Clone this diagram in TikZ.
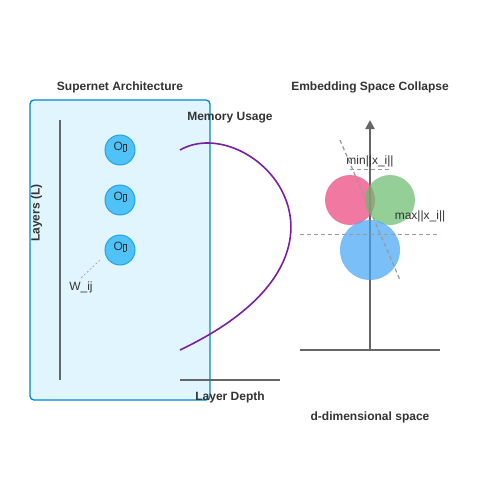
\documentclass[tikz,border=0pt]{standalone}
\usepackage{fontspec}
\setmainfont{Liberation Sans}
\usetikzlibrary{arrows.meta}
\definecolor{txt}{HTML}{333333}
\definecolor{axisgray}{HTML}{666666}
\definecolor{dashgray}{HTML}{999999}
\definecolor{boxfill}{HTML}{E1F5FE}
\definecolor{boxdraw}{HTML}{0288D1}
\definecolor{opfill}{HTML}{4FC3F7}
\definecolor{opdraw}{HTML}{29A0E0}
\definecolor{curvecol}{HTML}{7B1FA2}
\definecolor{pinkc}{HTML}{EC407A}
\definecolor{greenc}{HTML}{66BB6A}
\definecolor{bluec}{HTML}{42A5F5}
\newcommand{\tofubox}{{\setlength{\fboxsep}{0pt}\setlength{\fboxrule}{0.4pt}\fbox{\rule{0pt}{7pt}\hspace{2.5pt}}}}
\tikzset{
  titletxt/.style={font=\bfseries\fontsize{12}{14}\selectfont, text=txt, inner sep=0pt},
  labeltxt/.style={font=\fontsize{12}{14}\selectfont, text=txt, inner sep=0pt},
  axisline/.style={draw=axisgray, line width=2pt},
  dashline/.style={draw=dashgray, dashed, line width=1.2pt, dash pattern=on 4pt off 3pt},
  opnode/.style={circle, minimum size=30pt, inner sep=0pt, fill=opfill, draw=opdraw, line width=1pt},
}
\begin{document}
\begin{tikzpicture}[x=1pt,y=-1pt]
\useasboundingbox (0,0) rectangle (500,500);
\fill[white] (0,0) rectangle (500,500);
% left panel
\node[titletxt] (t1) at (120,87.5) {Supernet Architecture};
\draw[fill=boxfill, draw=boxdraw, line width=1.3pt, rounded corners=4pt] (30,100) rectangle (210,400);
\coordinate (la) at (60,120);
\coordinate (lb) at (60,380);
\draw[axisline] (la) -- (lb);
\node[titletxt, rotate=90] (ly) at (36.5,213) {Layers (L)};
\node[opnode] (o1) at (120,150) {};
\node[opnode] (o2) at (120,200) {};
\node[opnode] (o3) at (120,250) {};
\node[labeltxt] (o1t) at (120,147) {O\tofubox};
\node[labeltxt] (o2t) at (120,197) {O\tofubox};
\node[labeltxt] (o3t) at (120,247) {O\tofubox};
\node[labeltxt] (w) at (81,287) {W\_ij};
\coordinate (wd) at (80,279);
\draw[dashline, line width=0.6pt, dash pattern=on 2pt off 2pt] (100,260) -- (wd);
% memory curve
\node[titletxt] (mu) at (230,117.5) {Memory Usage};
\coordinate (cs) at (180,150);
\coordinate (ce) at (180,350);
\draw[curvecol, line width=1.6pt] (cs) .. controls (250,110) and (390,250) .. (ce);
\coordinate (da) at (180,380);
\coordinate (db) at (280,380);
\draw[axisline] (da) -- (db);
\node[titletxt] (ld) at (230,397.5) {Layer Depth};
% right panel
\node[titletxt] (t2) at (370,87.5) {Embedding Space Collapse};
\coordinate (ax0) at (370,350);
\coordinate (ax1) at (370,120);
\coordinate (hx0) at (300,350);
\coordinate (hx1) at (440,350);
\draw[axisline] (hx0) -- (hx1);
\draw[axisline, -{Triangle[length=9pt,width=9pt]}] (ax0) -- (ax1);
\fill[pinkc, opacity=0.7] (350,200) circle (25);
\fill[greenc, opacity=0.7] (390,200) circle (25);
\fill[bluec, opacity=0.7] (370,250) circle (30);
\draw[dashline] (340,140) -- (400,280);
\draw[dashline] (350,169.5) -- (390,169.5);
\draw[dashline] (300,234.5) -- (440,234.5);
\node[labeltxt] (mn) at (370,161) {min||x\_i||};
\node[labeltxt] (mx) at (420,216) {max||x\_i||};
\node[titletxt] (dd) at (370,417.5) {d-dimensional space};
\end{tikzpicture}
\end{document}
